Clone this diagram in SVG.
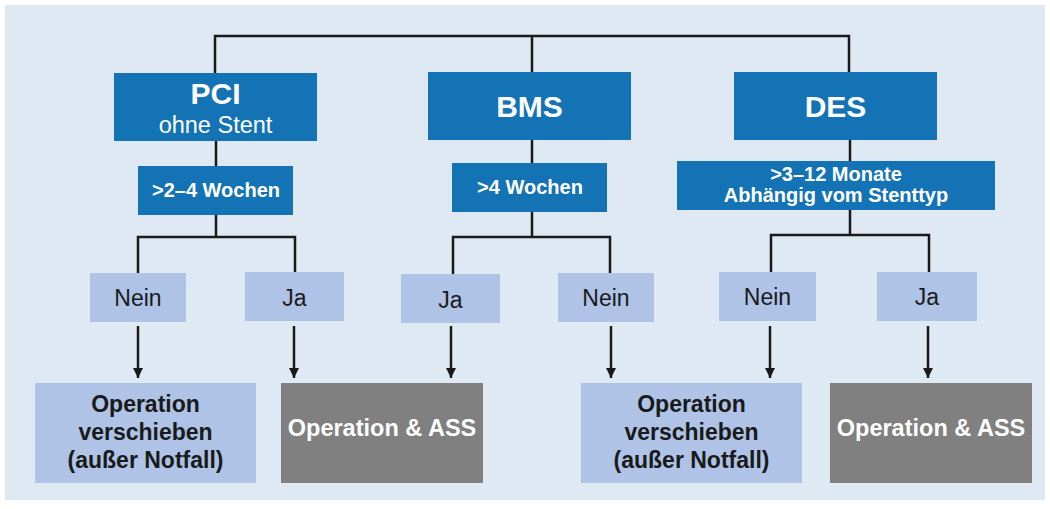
<svg xmlns="http://www.w3.org/2000/svg" width="1050" height="509" viewBox="0 0 1050 509">
<defs>
<style>
.bg{fill:#dfe9f4}
.blue{fill:#1473b5}
.light{fill:#aec3e6}
.gray{fill:#808080}
text{font-family:"Liberation Sans",Arial,sans-serif;text-anchor:middle}
.big{font-size:30px;font-weight:bold;fill:#fff}
.sub{font-size:23.5px;fill:#fff}
.lbl{font-size:20px;font-weight:bold;fill:#fff}
.ans{font-size:23px;fill:#1a1a1a}
.res{font-size:23px;font-weight:bold;fill:#1a1a1a}
.resw{font-size:23.5px;font-weight:bold;fill:#fff}
.ln{stroke:#1a1a1a;stroke-width:2.5;fill:none}
</style>
<marker id="ah" viewBox="0 0 10 10" refX="10" refY="5" markerWidth="10" markerHeight="10" markerUnits="userSpaceOnUse" orient="auto">
<path d="M0,0 L10,5 L0,10 z" fill="#1a1a1a"/>
</marker>
</defs>
<rect x="0" y="0" width="1050" height="509" fill="#ffffff"/>
<rect class="bg" x="5" y="5" width="1040" height="495"/>
<g id="connectors">
<path class="ln" d="M215,75 V36 H849 V75 M532,36 V75"/>
<path class="ln" d="M216,140 V168"/>
<path class="ln" d="M216,214 V237 M138,274 V237 H295 V274"/>
<path class="ln" d="M532,139 V165"/>
<path class="ln" d="M532,211 V237 M453,275 V237 H610 V274"/>
<path class="ln" d="M850,139 V163"/>
<path class="ln" d="M850,209 V235 M771,273 V235 H929 V273"/>
<line class="ln" x1="138" y1="326" x2="138" y2="378" marker-end="url(#ah)"/>
<line class="ln" x1="294" y1="326" x2="294" y2="378" marker-end="url(#ah)"/>
<line class="ln" x1="451" y1="326" x2="451" y2="378" marker-end="url(#ah)"/>
<line class="ln" x1="611" y1="326" x2="611" y2="378" marker-end="url(#ah)"/>
<line class="ln" x1="770" y1="326" x2="770" y2="378" marker-end="url(#ah)"/>
<line class="ln" x1="928" y1="326" x2="928" y2="378" marker-end="url(#ah)"/>
</g>
<g id="pci"><rect class="blue" x="114" y="73" width="203" height="68"/><text class="big" x="215.5" y="104">PCI</text><text class="sub" x="215.5" y="133">ohne Stent</text></g>
<g id="bms"><rect class="blue" x="428" y="72" width="203" height="68"/><text class="big" x="529.5" y="117">BMS</text></g>
<g id="des"><rect class="blue" x="734" y="72" width="203" height="68"/><text class="big" x="835.5" y="117">DES</text></g>
<g id="pci-time"><rect class="blue" x="138" y="166" width="155" height="49"/><text class="lbl" x="216" y="197">&gt;2–4 Wochen</text></g>
<g id="bms-time"><rect class="blue" x="452" y="163" width="155" height="49"/><text class="lbl" x="530" y="194">&gt;4 Wochen</text></g>
<g id="des-time"><rect class="blue" x="677" y="161" width="318" height="49"/><text class="lbl" x="836" y="181">&gt;3–12 Monate</text><text class="lbl" x="836" y="202">Abhängig vom Stenttyp</text></g>
<g id="pci-nein"><rect class="light" x="90" y="273" width="96" height="49"/><text class="ans" x="138" y="306">Nein</text></g>
<g id="pci-ja"><rect class="light" x="245" y="272" width="99" height="49"/><text class="ans" x="294.5" y="306">Ja</text></g>
<g id="bms-ja"><rect class="light" x="401" y="274" width="99" height="49"/><text class="ans" x="450.5" y="308">Ja</text></g>
<g id="bms-nein"><rect class="light" x="558" y="273" width="96" height="49"/><text class="ans" x="606" y="306">Nein</text></g>
<g id="des-nein"><rect class="light" x="719" y="272" width="97" height="49"/><text class="ans" x="767.5" y="305">Nein</text></g>
<g id="des-ja"><rect class="light" x="877" y="272" width="100" height="49"/><text class="ans" x="927" y="305">Ja</text></g>
<g id="res1"><rect class="light" x="35" y="383" width="221" height="100"/><text class="res" x="145.5" y="412">Operation</text><text class="res" x="145.5" y="440">verschieben</text><text class="res" x="145.5" y="468">(außer Notfall)</text></g>
<g id="res2"><rect class="gray" x="281" y="383" width="202" height="100"/><text class="resw" x="382" y="436">Operation &amp; ASS</text></g>
<g id="res3"><rect class="light" x="581" y="383" width="221" height="100"/><text class="res" x="691.5" y="412">Operation</text><text class="res" x="691.5" y="440">verschieben</text><text class="res" x="691.5" y="468">(außer Notfall)</text></g>
<g id="res4"><rect class="gray" x="830" y="383" width="202" height="100"/><text class="resw" x="931" y="436">Operation &amp; ASS</text></g>
</svg>
